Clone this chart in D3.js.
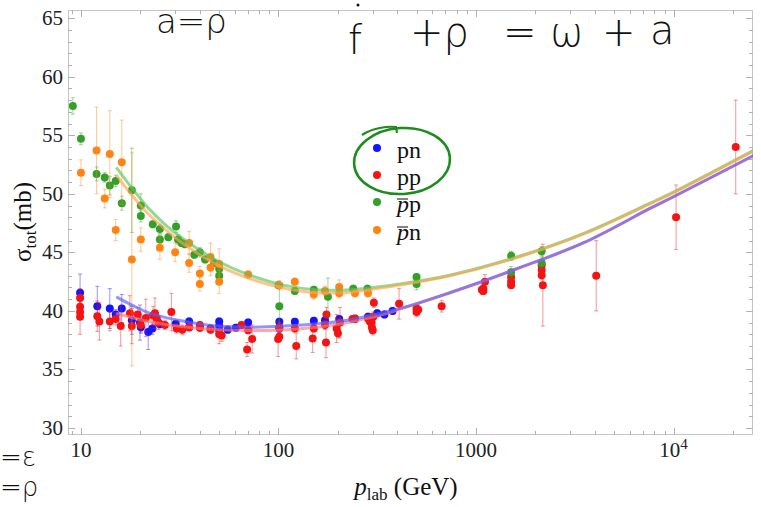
<!DOCTYPE html>
<html>
<head>
<meta charset="utf-8">
<script src="https://cdn.jsdelivr.net/npm/d3@7/dist/d3.min.js"></script>
<style>
  body { margin: 0; background: #fff; }
  text { font-family: "Liberation Serif", "Times New Roman", serif; }
  .hand { font-family: "DejaVu Sans", sans-serif; font-weight: 200; fill: #111; }
</style>
</head>
<body>
<svg id="chart" width="761" height="507"></svg>
<script>
// data: [p_lab (GeV), sigma_tot (mb), error]
const pnData = [
  [9.9,41.55,1.6],[12.1,40.4,1.7],[14,40.2,1.7],[15,39.7,0.4],[16.1,40.2,1.2],[18.1,39.2,1.2],
  [19.9,39.0,1.5],[20.1,38.6,0.5],[21.9,38.2,1.5],[23,38.5,0.5],[25.1,38.85,0.3],[30.2,38.9,0.3],
  [35.3,39.1,0.3],[35.3,38.6,0.3],[40,38.6,0.3],[45.3,38.5,0.3],[50.1,39.1,0.3],[50.1,38.7,0.3],
  [50.1,38.35,0.3],[55.3,38.4,0.3],[60.8,38.55,0.3],[70.2,39.0,0.3],[101,39.07,0.3],[101,38.5,0.3],
  [121,39.07,0.3],[151,39.15,0.3],[172,39.2,0.3],[203,39.3,0.3],[244,39.3,0.3],[284,39.5,0.3],
  [316,39.8,0.3],[344,39.7,0.3],[378,40.0,0.3]
];
const ppData = [
  [9.9,41.1,0.8],[9.9,40.35,0.8],[9.9,39.9,0.6],[9.9,39.5,1.5],[12.1,39.55,1.3],[12.4,39.1,1.6],
  [14,39.1,0.8],[15,39.3,0.5],[15.9,38.7,1.7],[17.7,39.8,1.5],[18.1,38.7,1.5],[19.4,39.7,0.6],
  [20.1,38.8,0.6],[21.3,39.4,1.6],[23.2,39.6,0.8],[23.7,39.8,1.3],[24.2,39.35,0.5],[24.7,39.0,0.6],
  [26.6,38.8,0.4],[28.7,39.9,1.6],[30.5,38.5,0.4],[32.6,38.4,0.4],[35.3,38.6,0.3],[40,38.8,0.3],
  [40,38.55,0.3],[45.3,38.4,0.3],[50.1,38.0,0.8],[51.6,37.9,0.5],[65,38.8,0.3],[69.4,36.7,0.6],
  [70.2,38.35,0.3],[73.6,37.6,1.2],[99.6,37.6,1.5],[101,38.6,0.4],[101,37.8,0.4],[121,38.5,0.3],
  [123,37.0,1.1],[149,37.65,1.2],[151,38.5,0.3],[172,38.8,0.4],[174,37.3,1.3],[175,39.7,0.6],
  [197,38.5,1.2],[200,38.1,0.4],[205,39.0,1.3],[237,39.3,0.3],[244,39.35,0.3],[284,39.35,0.3],
  [290,39.1,0.4],[296,39.0,0.4],[297,38.6,0.4],[300,38.35,0.4],[302,39.5,0.4],[304,40.7,0.4],
  [408,40.6,1.3],[500,40.2,0.3],[500,39.9,0.4],[510,40.1,0.4],[670,40.4,0.5],[1070,41.8,0.4],
  [1090,41.9,0.3],[1090,41.7,0.3],[1110,42.5,0.6],[1506,42.9,0.3],[1506,42.5,0.3],[1506,42.2,0.3],
  [2150,43.9,0.4],[2150,43.5,0.4],[2150,43.05,0.4],[2180,42.2,3.5],[4060,43.0,3.0],
  [10300,48.0,2.75],[20650,54.0,4.0]
];
const pbarpData = [
  [9.1,57.5,0.7],[10,54.7,0.5],[12,51.7,0.6],[13.2,51.4,0.4],[14,50.7,0.8],[15,51.1,0.5],
  [16.1,49.2,0.6],[18.1,50.3,3.6],[20.1,49.0,1.0],[20.1,48.1,0.5],[23.1,47.4,0.3],[25.1,47.0,0.4],
  [25.1,46.1,0.4],[27.7,46.3,0.3],[30.3,47.2,0.5],[31,46.1,0.4],[32.3,45.8,0.3],[33.6,45.7,0.3],
  [37.5,44.8,0.3],[40,45.0,0.4],[42.5,44.4,0.3],[47.1,44.1,0.3],[50.1,43.6,0.3],[50.1,43.0,0.4],
  [100,42.2,0.3],[101,40.4,1.8],[121,41.7,0.3],[151,41.8,0.3],[178,41.2,1.6],[239,41.9,0.3],
  [282,41.9,0.3],[500,42.9,0.3],[500,42.3,0.5],[1506,44.7,0.4],[1506,43.3,0.5],[2150,45.1,0.4],
  [2150,44.1,0.5]
];
const pbarnData = [
  [10,51.8,1.1],[12,53.7,3.7],[13.2,49.6,0.8],[14,53.4,3.7],[15,46.9,0.9],[16.1,52.7,3.6],
  [18.1,44.4,9.1],[20.1,46.1,1.0],[25.1,45.4,1.0],[30,45.0,0.8],[35.3,45.8,1.0],[35.3,44.1,0.8],
  [40,43.2,0.6],[40,42.3,0.6],[45.3,44.6,1.2],[45.3,43.7,0.7],[50.1,44.0,1.3],[50.1,42.5,1.0],
  [70.2,43.1,0.3],[101,42.2,0.4],[121,42.5,0.3],[151,41.4,0.4],[172,41.7,0.4],[203,42.05,0.6],
  [203,41.5,0.4],[244,41.5,0.3],[284,41.5,0.3]
];

// fitted curves: [p_lab, sigma]
const pnCurve = [[15.1,41.2],[18.1,40.5],[21.9,39.85],[26.6,39.45],[32.3,39.15],[39.3,38.9],[48.7,38.7],
  [71.6,38.6],[106,38.7],[156,38.9],[230,39.25],[411,40.2],[737,41.55],[1610,43.6],[3490,45.8],
  [7600,48.75],[10000,49.75],[26700,53.45]];
const ppCurve = [[15.1,39.8],[20,39.25],[26.6,38.85],[40,38.5],[60,38.35],[100,38.35],[156,38.6],
  [230,39.05],[340,39.7],[411,40.15],[737,41.55],[1610,43.6],[3490,45.8],[7600,48.75],[10000,49.75],
  [26700,53.45]];
const pbarpCurve = [[15.1,52.25],[18.1,50.5],[21.9,48.8],[26.6,47.4],[32.6,46.2],[48.7,44.3],[71.6,43.05],
  [105.8,42.2],[156,41.8],[230,41.8],[411,42.3],[737,43.05],[1610,44.6],[3490,46.6],[7600,49.2],
  [10000,50.15],[26700,53.9]];
const pbarnCurve = [[15.1,51.6],[18.1,49.9],[21.9,48.3],[26.6,47.0],[32.6,45.8],[48.7,43.95],[71.6,42.75],
  [105.8,41.95],[156,41.55],[230,41.6],[411,42.2],[737,43.0],[1610,44.55],[3490,46.55],[7600,49.15],
  [10000,50.1],[26700,53.85]];

const yTicks = [30, 35, 40, 45, 50, 55, 60, 65];
const xTicks = [10, 100, 1000, 10000];
const xTickLabels = ["10", "100", "1000", "10^4"];

const series = [
  {name: "pn",  bar: false, data: pnData,    curve: pnCurve,    color: "#1414ff", line: "#5a5aff"},
  {name: "pp",  bar: false, data: ppData,    curve: ppCurve,    color: "#f41414", line: "#ff7a7a"},
  {name: "pp",  bar: true,  data: pbarpData, curve: pbarpCurve, color: "#34a02a", line: "#58c458"},
  {name: "pn",  bar: true,  data: pbarnData, curve: pbarnCurve, color: "#ff8414", line: "#ffa452"}
];
// order the fit lines are painted in (later ones on top)
const curveOrder = [1, 0, 2, 3];

const W = 761, H = 507;
const margin = {left: 68, top: 10, right: 8, bottom: 72};
const x = d3.scaleLog().domain([8.6, 25250]).range([margin.left, W - margin.right]);
const y = d3.scaleLinear().domain([29.4, 65.7]).range([H - margin.bottom, margin.top]);

const svg = d3.select("#chart");

svg.append("clipPath").attr("id", "plotclip")
  .append("rect")
  .attr("x", margin.left).attr("y", margin.top)
  .attr("width", W - margin.left - margin.right)
  .attr("height", H - margin.top - margin.bottom);

// frame
svg.append("rect")
  .attr("x", margin.left + 0.5).attr("y", margin.top + 0.5)
  .attr("width", W - margin.left - margin.right - 1)
  .attr("height", H - margin.top - margin.bottom - 1)
  .attr("fill", "none").attr("stroke", "#c4c4c4");

// ticks: all four sides, pointing inward
const xMinor = [];
for (let e = 0; e <= 4; e++) {
  for (let k = 1; k <= 9; k++) {
    const v = k * Math.pow(10, e);
    if (v >= 8.6 && v <= 25250) xMinor.push(v);
  }
}
const yMinor = d3.range(30, 66, 1);

const tickG = svg.append("g").attr("stroke", "#b0b0b0").attr("stroke-width", 1);
xMinor.forEach(function(v){
  const major = xTicks.indexOf(v) >= 0;
  const len = major ? 7 : 4;
  const px = Math.round(x(v)) + 0.5;
  tickG.append("line").attr("x1", px).attr("x2", px)
    .attr("y1", H - margin.bottom).attr("y2", H - margin.bottom - len);
  tickG.append("line").attr("x1", px).attr("x2", px)
    .attr("y1", margin.top).attr("y2", margin.top + len);
});
yMinor.forEach(function(v){
  const major = v % 5 == 0;
  const len = major ? 7 : 4;
  const py = Math.round(y(v)) + 0.5;
  tickG.append("line").attr("y1", py).attr("y2", py)
    .attr("x1", margin.left).attr("x2", margin.left + len);
  tickG.append("line").attr("y1", py).attr("y2", py)
    .attr("x1", W - margin.right).attr("x2", W - margin.right - len);
});

// tick labels
svg.append("g").selectAll("text")
  .data(yTicks).enter().append("text")
  .attr("x", margin.left - 5)
  .attr("y", d => y(d) + 7)
  .attr("text-anchor", "end")
  .attr("font-size", 21)
  .attr("fill", "#222")
  .text(d => d);

const xl = svg.append("g").selectAll("text")
  .data(xTicks).enter().append("text")
  .attr("x", d => x(d))
  .attr("y", 457)
  .attr("text-anchor", "middle")
  .attr("font-size", 21)
  .attr("fill", "#222");
xl.each(function(d, i){
  const lab = xTickLabels[i];
  const t = d3.select(this);
  if (lab.indexOf("^") > 0) {
    const parts = lab.split("^");
    t.append("tspan").text(parts[0]);
    t.append("tspan").attr("dy", -8).attr("font-size", 15).text(parts[1]);
  } else {
    t.text(lab);
  }
});

// axis titles
const yt = svg.append("text")
  .attr("transform", "translate(31,222) rotate(-90)")
  .attr("text-anchor", "middle")
  .attr("font-size", 25)
  .attr("fill", "#111");
yt.append("tspan").text("σ");
yt.append("tspan").attr("dy", 5).attr("font-size", 17).text("tot");
yt.append("tspan").attr("dy", -5).text("(mb)");

const xt = svg.append("text")
  .attr("x", 406).attr("y", 495)
  .attr("text-anchor", "middle")
  .attr("font-size", 25)
  .attr("fill", "#111");
xt.append("tspan").attr("font-style", "italic").text("p");
xt.append("tspan").attr("dy", 5).attr("font-size", 17).text("lab");
xt.append("tspan").attr("dy", -5).text(" (GeV)");

// plot contents
const plot = svg.append("g").attr("clip-path", "url(#plotclip)");

series.forEach(function(s){
  const g = plot.append("g");
  // error bars
  const eb = g.append("g").attr("stroke", s.color).attr("stroke-opacity", 0.45).attr("stroke-width", 1);
  eb.selectAll("line.v").data(s.data).enter().append("line")
    .attr("x1", d => x(d[0])).attr("x2", d => x(d[0]))
    .attr("y1", d => y(d[1] - d[2])).attr("y2", d => y(d[1] + d[2]));
  eb.selectAll("line.t").data(s.data).enter().append("line")
    .attr("x1", d => x(d[0]) - 2).attr("x2", d => x(d[0]) + 2)
    .attr("y1", d => y(d[1] + d[2])).attr("y2", d => y(d[1] + d[2]));
  eb.selectAll("line.b").data(s.data).enter().append("line")
    .attr("x1", d => x(d[0]) - 2).attr("x2", d => x(d[0]) + 2)
    .attr("y1", d => y(d[1] - d[2])).attr("y2", d => y(d[1] - d[2]));
  // points
  g.selectAll("circle").data(s.data).enter().append("circle")
    .attr("cx", d => x(d[0])).attr("cy", d => y(d[1]))
    .attr("r", 4)
    .attr("fill", s.color);
});

const line = d3.line()
  .x(d => x(d[0])).y(d => y(d[1]))
  .curve(d3.curveCatmullRom);

curveOrder.forEach(function(i){
  const s = series[i];
  plot.append("path")
    .datum(s.curve)
    .attr("d", line)
    .attr("fill", "none")
    .attr("stroke", s.line)
    .attr("stroke-opacity", 0.65)
    .attr("stroke-width", 3);
});

// legend
const legendRows = [148, 175, 202, 230];
series.forEach(function(s, i){
  const cy = legendRows[i];
  svg.append("circle").attr("cx", 377).attr("cy", cy).attr("r", 4).attr("fill", s.color);
  const t = svg.append("text").attr("x", 397).attr("y", cy + 10)
    .attr("font-size", 24).attr("fill", "#111");
  if (s.bar) {
    t.append("tspan").attr("font-style", "italic").text("p");
    t.append("tspan").text(s.name.slice(1));
    svg.append("line").attr("x1", 397).attr("x2", 408)
      .attr("y1", cy - 3).attr("y2", cy - 3)
      .attr("stroke", "#333").attr("stroke-width", 1.2);
  } else {
    t.text(s.name);
  }
});

// handwritten notes on the picture
const notes = [
  {t: "a=ρ", x: 156, y: 33, s: 34},
  {t: "f", x: 348, y: 54, s: 40},
  {t: "+ρ", x: 410, y: 46, s: 40},
  {t: "=", x: 503, y: 46, s: 40},
  {t: "ω", x: 550, y: 46, s: 40},
  {t: "+", x: 602, y: 46, s: 40},
  {t: "a", x: 650, y: 44, s: 40},
  {t: "=ε", x: 0, y: 466, s: 26},
  {t: "=ρ", x: 0, y: 496, s: 26}
];
svg.append("g").selectAll("text").data(notes).enter().append("text")
  .attr("class", "hand")
  .attr("x", d => d.x).attr("y", d => d.y)
  .attr("font-size", d => d.s)
  .text(d => d.t);
svg.append("circle").attr("cx", 358).attr("cy", 5).attr("r", 1.5).attr("fill", "#111");

// green ring drawn round the pn / pp legend
svg.append("ellipse")
  .attr("cx", 402).attr("cy", 161).attr("rx", 48).attr("ry", 33)
  .attr("transform", "rotate(-4 402 161)")
  .attr("fill", "none").attr("stroke", "#1e8c1e").attr("stroke-width", 2.5);
svg.append("path")
  .attr("d", "M362,135 C372,128 388,126 396,127 L397,133")
  .attr("fill", "none").attr("stroke", "#1e8c1e").attr("stroke-width", 2.2);
</script>
</body>
</html>
